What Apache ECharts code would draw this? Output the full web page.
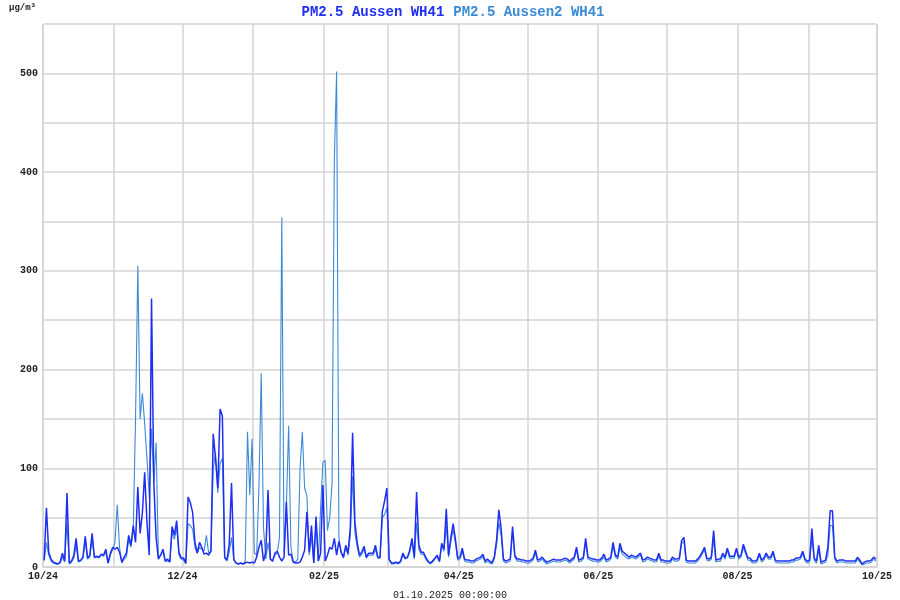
<!DOCTYPE html>
<html><head><meta charset="utf-8">
<script src="https://cdn.jsdelivr.net/npm/echarts@6/dist/echarts.min.js"></script>
<style>html,body{margin:0;padding:0;background:#fff}#c{width:900px;height:600px}</style>
</head><body><div id="c"></div>
<script>
// Series names
const nameAussen = 'PM2.5 Aussen WH41';
const nameAussen2 = 'PM2.5 Aussen2 WH41';
const unitLabel = 'µg/m³';
const footerLabel = '01.10.2025 00:00:00';

// Daily values, PM2.5 Aussen WH41 (µg/m³), per month
const aussen_2024_10 = [7,60,15,8,5,4,3,5,14,6,75,4,6,12,29,6,7,10,31,9,12,34,10,11,10,13,12,18,4,14,20];
const aussen_2024_11 = [18,20,15,5,10,14,32,22,42,25,81,34,55,96,45,12,272,85,30,8,12,18,6,8,5,41,32,47,15,9];
const aussen_2024_12 = [9,4,71,65,55,25,14,25,20,13,14,12,16,135,110,80,160,153,10,7,23,85,8,4,3,4,3,4,5,4,5];
const aussen_2025_01 = [4,10,20,27,6,15,78,8,6,14,16,10,6,10,66,12,13,5,4,4,5,10,17,56,15,42,4,51,6,14,83];
const aussen_2025_02 = [6,12,20,18,29,12,26,15,10,22,14,40,136,45,25,12,15,21,10,14,14,14,22,10,10,56,67,80];
const aussen_2025_03 = [8,4,4,5,4,6,14,9,10,17,29,10,76,22,15,15,10,6,4,6,9,12,6,24,18,59,12,30,44,28,9];
const aussen_2025_04 = [10,19,8,7,7,6,6,8,9,10,13,6,8,6,4,10,27,58,39,8,6,7,8,41,12,8,8,7,7,6];
const aussen_2025_05 = [6,7,9,17,7,8,10,7,5,6,7,8,7,7,7,8,9,8,6,8,10,20,7,8,10,29,10,9,8,8,7];
const aussen_2025_06 = [7,9,13,7,8,10,25,12,10,24,16,14,12,10,12,11,10,12,14,7,8,10,9,8,7,7,14,7,7,6];
const aussen_2025_07 = [6,6,10,8,8,9,27,30,7,6,6,6,6,8,11,15,20,9,8,10,37,7,8,8,14,10,19,11,11,11,19];
const aussen_2025_08 = [10,12,23,16,9,9,6,6,7,14,7,9,14,10,10,16,7,6,6,6,6,6,6,7,7,9,9,10,16,8,6];
const aussen_2025_09 = [7,39,9,6,22,5,6,7,20,57,57,10,6,7,7,7,6,6,6,6,6,10,7,3,5,6,6,7,10,8];

// Daily values, PM2.5 Aussen2 WH41 (µg/m³), per month
const aussen2_2024_10 = [6,25,12,6,4,3,3,4,10,5,45,3,5,9,22,5,6,9,27,8,10,28,9,10,9,12,11,15,4,12,18];
const aussen2_2024_11 = [25,63,20,4,8,10,28,20,38,150,305,150,176,145,110,71,140,85,126,10,12,16,6,6,5,35,28,40,12,8];
const aussen2_2024_12 = [7,3,44,42,38,20,14,20,18,16,32,14,16,100,115,75,105,110,9,6,15,30,7,4,3,4,3,6,137,73,130];
const aussen2_2025_01 = [14,12,80,196,40,8,25,8,6,12,14,30,354,15,60,143,20,6,5,8,100,137,80,72,12,30,4,45,6,60,106];
const aussen2_2025_02 = [108,37,50,85,411,502,30,14,9,20,12,32,92,35,20,10,13,18,9,12,12,12,18,9,9,50,53,60];
const aussen2_2025_03 = [7,3,3,4,3,5,12,8,9,15,26,8,45,18,13,13,8,5,3,5,8,10,5,22,16,42,10,26,38,24,7];
const aussen2_2025_04 = [8,16,6,5,5,4,4,6,7,8,11,4,6,4,3,8,22,45,32,6,4,5,6,35,10,6,6,5,5,4];
const aussen2_2025_05 = [4,5,7,14,5,6,8,5,3,4,5,6,5,5,5,6,7,6,4,6,8,17,5,6,8,25,8,7,6,6,5];
const aussen2_2025_06 = [5,7,10,5,6,8,21,10,8,20,13,11,9,8,10,9,8,10,12,5,6,8,7,6,5,5,11,5,5,4];
const aussen2_2025_07 = [4,4,8,6,6,7,24,26,5,4,4,4,4,6,9,13,18,7,6,8,28,5,6,6,12,8,17,9,9,9,17];
const aussen2_2025_08 = [8,10,20,13,7,7,4,4,5,12,5,7,12,8,8,14,5,4,4,4,4,4,4,5,5,7,7,8,14,6,4];
const aussen2_2025_09 = [5,30,7,4,17,3,4,5,12,42,42,8,4,5,5,5,4,4,4,4,4,8,5,2,3,4,4,5,8,6];

// y-axis tick labels
const yTickLabels = [0,100,200,300,400,500];

const monthsAussen = [aussen_2024_10,aussen_2024_11,aussen_2024_12,aussen_2025_01,aussen_2025_02,aussen_2025_03,aussen_2025_04,aussen_2025_05,aussen_2025_06,aussen_2025_07,aussen_2025_08,aussen_2025_09];
const monthsAussen2 = [aussen2_2024_10,aussen2_2024_11,aussen2_2024_12,aussen2_2025_01,aussen2_2025_02,aussen2_2025_03,aussen2_2025_04,aussen2_2025_05,aussen2_2025_06,aussen2_2025_07,aussen2_2025_08,aussen2_2025_09];

function build(months) {
  const out = [];
  months.forEach((arr, mi) => {
    const y = 2024 + Math.floor((9 + mi) / 12);
    const m = (9 + mi) % 12;
    arr.forEach((v, di) => out.push([new Date(y, m, di + 1, 12).getTime(), v]));
  });
  return out;
}

const colAussen = '#1f2ef2';
const colAussen2 = '#3b8ad6';
const mono = '"Liberation Mono", "DejaVu Sans Mono", monospace';

const chart = echarts.init(document.getElementById('c'), null, {renderer: 'canvas'});
chart.setOption({
  animation: false,
  backgroundColor: '#ffffff',
  legend: {
    top: 0, left: 'center',
    itemWidth: 0, itemHeight: 0, itemGap: 3,
    textStyle: {fontFamily: mono, fontWeight: 'bold', fontSize: 14},
    data: [
      {name: nameAussen, textStyle: {color: colAussen}},
      {name: nameAussen2, textStyle: {color: colAussen2}}
    ]
  },
  graphic: [
    {type: 'text', left: 9, top: 3, style: {text: unitLabel, font: 'bold 9px ' + mono, fill: '#222'}},
    {type: 'text', left: 'center', top: 590, style: {text: footerLabel, font: '10px ' + mono, fill: '#222'}}
  ],
  grid: {left: 43, right: 23, top: 24, bottom: 33},
  xAxis: {
    type: 'time',
    min: new Date(2024, 9, 1).getTime(),
    max: new Date(2025, 9, 1).getTime(),
    minInterval: 28 * 86400000,
    maxInterval: 31 * 86400000,
    splitNumber: 12,
    axisLine: {show: true, lineStyle: {color: '#d4d4d4', width: 1.5}},
    axisTick: {show: false},
    splitLine: {show: true, lineStyle: {color: '#d4d4d4', width: 1.5}},
    axisLabel: {
      margin: 4,
      color: '#222', fontFamily: mono, fontWeight: 'bold', fontSize: 10,
      showMinLabel: true, showMaxLabel: true,
      formatter: function (val) {
        const d = new Date(val);
        const m = d.getMonth() + 1;
        if (d.getDate() !== 1 || m % 2 !== 0) return '';
        return String(m).padStart(2, '0') + '/' + String(d.getFullYear() % 100).padStart(2, '0');
      }
    }
  },
  yAxis: {
    type: 'value', min: 0, max: 550, interval: 50,
    axisLine: {show: false}, axisTick: {show: false},
    splitLine: {show: true, lineStyle: {color: '#d4d4d4', width: 1.5}},
    axisLabel: {
      margin: 5, color: '#222', fontFamily: mono, fontWeight: 'bold', fontSize: 10,
      formatter: function (v) { return yTickLabels.indexOf(v) >= 0 ? String(v) : ''; }
    }
  },
  series: [
    {name: nameAussen2, type: 'line', data: build(monthsAussen2), showSymbol: false, symbol: 'none',
     lineStyle: {color: colAussen2, width: 1.1}, itemStyle: {color: colAussen2}},
    {name: nameAussen, type: 'line', data: build(monthsAussen), showSymbol: false, symbol: 'none',
     lineStyle: {color: colAussen, width: 1.5}, itemStyle: {color: colAussen}}
  ]
});
</script></body></html>
